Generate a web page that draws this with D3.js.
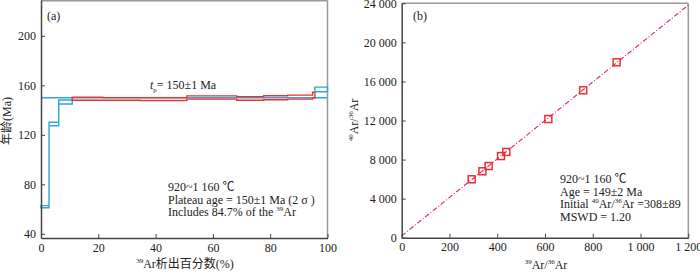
<!DOCTYPE html>
<html>
<head>
<meta charset="utf-8">
<script src="https://cdn.jsdelivr.net/npm/d3@7"></script>
<style>
  body { margin: 0; background: #fff; }
  svg { display: block; }
  text { font-family: "Liberation Serif", "Noto Sans CJK SC", serif; fill: #222; }
  .tick text { font-size: 12px; }
</style>
</head>
<body>
<div id="chart"></div>
<script>
// ---- data (a): step heating spectrum ----
// cumulative 39Ar released (%) at the step boundaries
var stepBounds = [0, 2.8, 6.2, 10.9, 21.6, 34.8, 50.9, 68.3, 77.7, 86.1, 94.8, 95.6, 100];
var stepAges   = [61.9, 128.8, 146.5, 149.2, 149.0, 148.9, 150.2, 149.4, 150.0, 150.5, 152.2, 156.7];
var stepErrs   = [0.9, 1.4, 1.6, 1.3, 1.1, 1.2, 1.3, 1.5, 1.6, 1.6, 2.2, 1.9];
// which steps belong to the plateau (red) and which are excluded (blue)
var stepGroups = [[0, 1, 2], [3, 4, 5, 6, 7, 8, 9, 10], [11]];
var groupInPlateau = [false, true, false];
var plateauAge = 150;
var ageTicks = [40, 80, 120, 160, 200];
var pctTicks = [0, 20, 40, 60, 80, 100];

// ---- data (b): inverse isochron ----
var ar39ar36 = [293, 338, 364, 416, 438, 614, 760, 900];
var ar40ar36 = [5980, 6800, 7340, 8360, 8780, 12150, 15090, 17960];
var isoIntercept = 180;
var isoSlope = 19.7;
var isoXTicks = [0, 200, 400, 600, 800, 1000, 1200];
var isoYTicks = [0, 4000, 8000, 12000, 16000, 20000, 24000];

var blue = "#2ba6de", red = "#e8332c", pink = "#e5197e";

var svg = d3.select("#chart").append("svg")
  .attr("width", 700).attr("height", 274);

function spaced(v) {
  // "24 000" style thousands separator
  return d3.format(",")(v).replace(/,/g, " ");
}

function frame(g, x0, x1, y0, y1) {
  g.append("line").attr("x1", x0).attr("x2", x1).attr("y1", y0).attr("y2", y0)
    .attr("stroke", "#999").attr("stroke-width", 1.5);
  g.append("line").attr("x1", x1).attr("x2", x1).attr("y1", y0).attr("y2", y1)
    .attr("stroke", "#999").attr("stroke-width", 1.5);
}

function styleAxis(g) {
  g.select(".domain").attr("stroke", "#444").attr("stroke-width", 1.5);
  g.selectAll(".tick line").attr("stroke", "#444");
  g.selectAll(".tick text").attr("fill", "#222");
}

// text line with superscripts: parts = [[text, isSup], ...]
function richText(g, x, y, parts, anchor) {
  var t = g.append("text").attr("x", x).attr("y", y).attr("font-size", 12)
    .attr("text-anchor", anchor || "start");
  var up = false;
  parts.forEach(function(p) {
    var s = t.append("tspan").text(p[0]);
    if (p[1] && !up) { s.attr("font-size", 7).attr("dy", -5); up = true; }
    else if (p[1]) { s.attr("font-size", 7); }
    else if (up) { s.attr("dy", 5); up = false; }
  });
  return t;
}

// =============== panel (a) ===============
var xA = d3.scaleLinear().domain([0, 100]).range([41, 327.5]);
var yA = d3.scaleLinear().domain([36.6, 229]).range([238, 0]);
var gA = svg.append("g");

frame(gA, xA.range()[0], xA.range()[1], yA.range()[1] + 0.75, yA.range()[0]);

// plateau age line
gA.append("line")
  .attr("x1", xA(0)).attr("x2", xA(100))
  .attr("y1", yA(plateauAge)).attr("y2", yA(plateauAge))
  .attr("stroke", blue).attr("stroke-width", 1.5);

var poly = d3.line().x(d => d[0]).y(d => d[1]);
stepGroups.forEach(function(idx, gi) {
  var pts = [];
  idx.forEach(function(i) {
    pts.push([xA(stepBounds[i]), yA(stepAges[i] + stepErrs[i])]);
    pts.push([xA(stepBounds[i + 1]), yA(stepAges[i] + stepErrs[i])]);
  });
  idx.slice().reverse().forEach(function(i) {
    pts.push([xA(stepBounds[i + 1]), yA(stepAges[i] - stepErrs[i])]);
    pts.push([xA(stepBounds[i]), yA(stepAges[i] - stepErrs[i])]);
  });
  gA.append("path")
    .attr("d", poly(pts) + "Z")
    .attr("fill", "none")
    .attr("stroke", groupInPlateau[gi] ? red : blue)
    .attr("stroke-width", 1.4);
});

gA.append("g")
  .attr("transform", `translate(0, ${yA.range()[0]})`)
  .call(d3.axisBottom(xA).tickValues(pctTicks).tickSizeInner(-4).tickSizeOuter(0).tickPadding(5))
  .call(styleAxis);
gA.append("g")
  .attr("transform", `translate(${xA.range()[0]}, 0)`)
  .call(d3.axisLeft(yA).tickValues(ageTicks).tickSizeInner(-4).tickSizeOuter(0).tickPadding(5))
  .call(styleAxis);

gA.append("text").attr("x", 47).attr("y", 20).attr("font-size", 12).text("(a)");

var tp = gA.append("text").attr("x", 150).attr("y", 89).attr("font-size", 12);
tp.append("tspan").attr("font-style", "italic").text("t");
tp.append("tspan").attr("font-size", 7).attr("dy", 3).text("p");
tp.append("tspan").attr("dy", -3).text("= 150\u00b11 Ma");

richText(gA, 168, 191, [["920~1 160 \u2103"]]);
richText(gA, 168, 203.5, [["Plateau age = 150\u00b11 Ma (2 \u03c3 )"]]);
richText(gA, 168, 216, [["Includes 84.7% of the "], ["39", true], ["Ar"]]);

richText(gA, 185, 268, [["39", true], ["Ar\u6790\u51fa\u767e\u5206\u6570(%)"]], "middle");

gA.append("text")
  .attr("transform", "translate(11, 121) rotate(-90)")
  .attr("text-anchor", "middle").attr("font-size", 12)
  .text("\u5e74\u9f84(Ma)");

// =============== panel (b) ===============
var xB = d3.scaleLinear().domain([0, 1200]).range([401.7, 688.3]);
var yB = d3.scaleLinear().domain([0, 24000]).range([237.7, 3.3]);
var gB = svg.append("g");

frame(gB, xB.range()[0], xB.range()[1], yB.range()[1], yB.range()[0]);

var pts = ar39ar36.map((v, i) => ({ x: v, y: ar40ar36[i] }));
gB.selectAll("rect.pt").data(pts).enter().append("rect")
  .attr("class", "pt")
  .attr("x", d => xB(d.x) - 3.5).attr("y", d => yB(d.y) - 3.5)
  .attr("width", 7).attr("height", 7)
  .attr("fill", "none").attr("stroke", red).attr("stroke-width", 1.5);

var isoLine = d3.line().x(d => xB(d)).y(d => yB(isoIntercept + isoSlope * d));
gB.append("path")
  .attr("d", isoLine([0, 1200]))
  .attr("fill", "none").attr("stroke", pink).attr("stroke-width", 1.1)
  .attr("stroke-dasharray", "5,2,1,2");

gB.append("g")
  .attr("transform", `translate(0, ${yB.range()[0]})`)
  .call(d3.axisBottom(xB).tickValues(isoXTicks).tickFormat(spaced).tickSizeInner(-4).tickSizeOuter(0).tickPadding(5))
  .call(styleAxis);
gB.append("g")
  .attr("transform", `translate(${xB.range()[0]}, 0)`)
  .call(d3.axisLeft(yB).tickValues(isoYTicks).tickFormat(spaced).tickSizeInner(-4).tickSizeOuter(0).tickPadding(5))
  .call(styleAxis);

gB.append("text").attr("x", 413).attr("y", 20).attr("font-size", 12).text("(b)");

richText(gB, 560, 183, [["920~1 160 \u2103"]]);
richText(gB, 560, 195.5, [["Age = 149\u00b12 Ma"]]);
richText(gB, 560, 208, [["Initial "], ["40", true], ["Ar/"], ["36", true], ["Ar =308\u00b189"]]);
richText(gB, 560, 220.5, [["MSWD = 1.20"]]);

richText(gB, 546, 269, [["39", true], ["Ar/"], ["36", true], ["Ar"]], "middle");

richText(gB, 0, 0, [["40", true], ["Ar/"], ["36", true], ["Ar"]], "middle")
  .attr("transform", "translate(358, 120) rotate(-90)");
</script>
</body>
</html>
